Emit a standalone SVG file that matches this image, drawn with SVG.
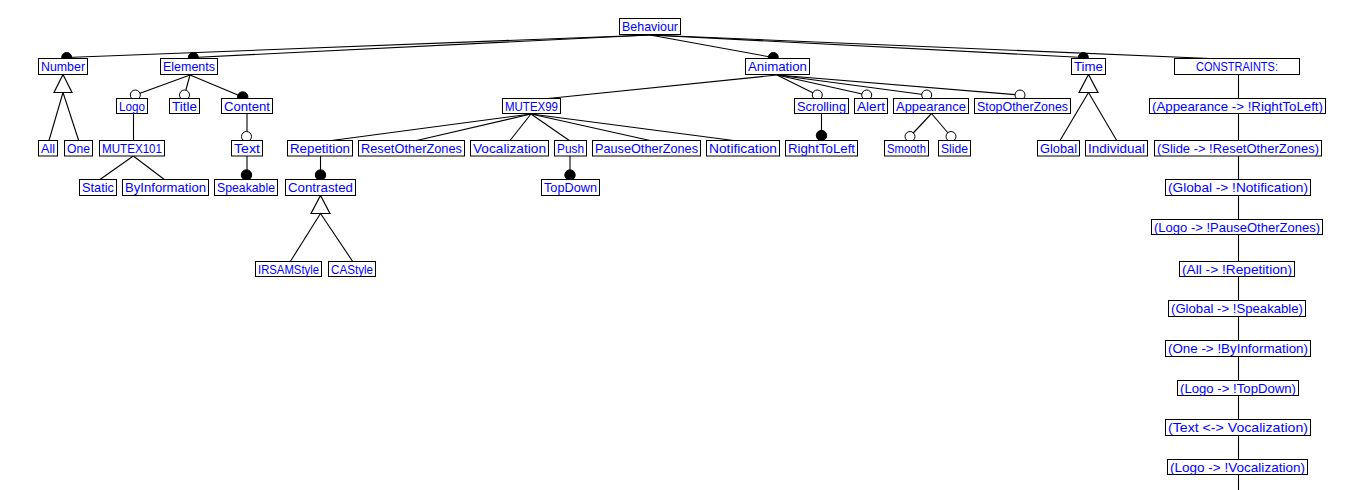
<svg xmlns="http://www.w3.org/2000/svg" width="1352" height="490" viewBox="0 0 1352 490">
<style>
rect{fill:#fff;stroke:#000;stroke-width:1}
text{font-family:"Liberation Sans",Arial,sans-serif;font-size:13.5px;fill:#0000ff;text-anchor:middle}
#connectors line{stroke:#000;stroke-width:1.1}
.open{fill:#fff;stroke:#000;stroke-width:1}
.full{fill:#000;stroke:#000;stroke-width:1}
.tri{fill:#fff;stroke:#000;stroke-width:1.2}
</style>
<rect x="0" y="0" width="1352" height="490" style="fill:#fff;stroke:none"/>
<g id="connectors">
<line x1="650" y1="35" x2="66.7" y2="57.5"/>
<line x1="650" y1="35" x2="193.3" y2="57.5"/>
<line x1="650" y1="35" x2="773.3" y2="57.5"/>
<line x1="650" y1="35" x2="1083.3" y2="57.5"/>
<line x1="650" y1="35" x2="1210" y2="58.5"/>
<line x1="190" y1="75" x2="135.3" y2="95"/>
<line x1="190" y1="75" x2="184.5" y2="95"/>
<line x1="190" y1="75" x2="242.7" y2="97"/>
<line x1="777" y1="75" x2="548" y2="98.5"/>
<line x1="777" y1="75" x2="817.3" y2="95"/>
<line x1="777" y1="75" x2="866.7" y2="95"/>
<line x1="777" y1="75" x2="926.7" y2="95"/>
<line x1="777" y1="75" x2="1020" y2="95"/>
<line x1="531" y1="114" x2="331.7" y2="140.5"/>
<line x1="531" y1="114" x2="416.7" y2="140.5"/>
<line x1="531" y1="114" x2="510" y2="140.5"/>
<line x1="531" y1="114" x2="569.3" y2="140.5"/>
<line x1="531" y1="114" x2="650" y2="140.5"/>
<line x1="531" y1="114" x2="733.5" y2="140.5"/>
<line x1="133.5" y1="113.5" x2="133.5" y2="140.5"/>
<line x1="133.3" y1="156" x2="100" y2="179.5"/>
<line x1="133.3" y1="156" x2="164.3" y2="179.5"/>
<line x1="247" y1="113.5" x2="247" y2="137"/>
<line x1="247" y1="156" x2="247" y2="175"/>
<line x1="320.5" y1="156" x2="320.5" y2="175"/>
<line x1="320.5" y1="213.5" x2="290.3" y2="261.5"/>
<line x1="320.5" y1="213.5" x2="352.7" y2="261.5"/>
<line x1="570" y1="156" x2="570" y2="175"/>
<line x1="821.5" y1="113.5" x2="821.5" y2="135.5"/>
<line x1="931.5" y1="113.5" x2="910" y2="136.5"/>
<line x1="931.5" y1="113.5" x2="951" y2="136.5"/>
<line x1="63" y1="92.5" x2="49" y2="140.5"/>
<line x1="63" y1="92.5" x2="78.7" y2="140.5"/>
<line x1="1088.5" y1="92.5" x2="1060" y2="140.5"/>
<line x1="1088.5" y1="92.5" x2="1116.7" y2="140.5"/>
<line x1="1238.5" y1="74.5" x2="1238.5" y2="490"/>
<polygon class="tri" points="63,74.5 54,92.5 72,92.5"/>
<polygon class="tri" points="1088.5,74.5 1079,92.5 1098,92.5"/>
<polygon class="tri" points="320.5,195.5 311,213.5 330,213.5"/>
<circle class="full" cx="66.7" cy="57.5" r="5"/>
<circle class="full" cx="193.3" cy="57.5" r="5"/>
<circle class="full" cx="773.3" cy="57.5" r="5"/>
<circle class="full" cx="1083.3" cy="57.5" r="5"/>
<circle class="full" cx="242.7" cy="97" r="5.2"/>
<circle class="full" cx="246.5" cy="175" r="5.2"/>
<circle class="full" cx="320.5" cy="175" r="5.2"/>
<circle class="full" cx="570" cy="175" r="5.2"/>
<circle class="full" cx="821.5" cy="135.5" r="5.2"/>
<circle class="open" cx="135.3" cy="95" r="5"/>
<circle class="open" cx="184.5" cy="95" r="5"/>
<circle class="open" cx="817.3" cy="95" r="5"/>
<circle class="open" cx="866.7" cy="95" r="5"/>
<circle class="open" cx="926.7" cy="95" r="5"/>
<circle class="open" cx="1020" cy="95" r="5"/>
<circle class="open" cx="246.5" cy="136.5" r="5"/>
<circle class="open" cx="910" cy="136.5" r="5"/>
<circle class="open" cx="951" cy="136.5" r="5"/>
</g>
<g id="Behaviour"><rect x="619.5" y="18.5" width="61" height="16"/><text x="650" y="31" textLength="56" lengthAdjust="spacingAndGlyphs">Behaviour</text></g>
<g id="Number"><rect x="38.5" y="58.5" width="49" height="16"/><text x="63" y="71" textLength="44" lengthAdjust="spacingAndGlyphs">Number</text></g>
<g id="Elements"><rect x="160.5" y="58.5" width="57" height="16"/><text x="189" y="71" textLength="52" lengthAdjust="spacingAndGlyphs">Elements</text></g>
<g id="Animation"><rect x="745.5" y="58.5" width="64" height="16"/><text x="777.5" y="71" textLength="59" lengthAdjust="spacingAndGlyphs">Animation</text></g>
<g id="Time"><rect x="1071.5" y="58.5" width="34" height="16"/><text x="1088.5" y="71" textLength="29" lengthAdjust="spacingAndGlyphs">Time</text></g>
<g id="CONSTRAINTS"><rect x="1174.5" y="58.5" width="125" height="16"/><text x="1237" y="71" textLength="82" lengthAdjust="spacingAndGlyphs">CONSTRAINTS:</text></g>
<g id="Logo"><rect x="116.5" y="98.5" width="31" height="15"/><text x="132" y="110.5" textLength="26" lengthAdjust="spacingAndGlyphs">Logo</text></g>
<g id="Title"><rect x="169.5" y="98.5" width="30" height="15"/><text x="184.5" y="110.5" textLength="25" lengthAdjust="spacingAndGlyphs">Title</text></g>
<g id="Content"><rect x="221.5" y="98.5" width="51" height="15"/><text x="247" y="110.5" textLength="46" lengthAdjust="spacingAndGlyphs">Content</text></g>
<g id="MUTEX99"><rect x="502.5" y="98.5" width="58" height="15"/><text x="531.5" y="110.5" textLength="53" lengthAdjust="spacingAndGlyphs">MUTEX99</text></g>
<g id="Scrolling"><rect x="794.5" y="98.5" width="54" height="15"/><text x="821.5" y="110.5" textLength="49" lengthAdjust="spacingAndGlyphs">Scrolling</text></g>
<g id="Alert"><rect x="854.5" y="98.5" width="33" height="15"/><text x="871" y="110.5" textLength="28" lengthAdjust="spacingAndGlyphs">Alert</text></g>
<g id="Appearance"><rect x="893.5" y="98.5" width="75" height="15"/><text x="931" y="110.5" textLength="70" lengthAdjust="spacingAndGlyphs">Appearance</text></g>
<g id="StopOtherZones"><rect x="974.5" y="98.5" width="96" height="15"/><text x="1022.5" y="110.5" textLength="91" lengthAdjust="spacingAndGlyphs">StopOtherZones</text></g>
<g id="c1"><rect x="1149.5" y="98.5" width="176" height="15"/><text x="1237.5" y="110.5" textLength="171" lengthAdjust="spacingAndGlyphs">(Appearance -&gt; !RightToLeft)</text></g>
<g id="All"><rect x="38.5" y="140.5" width="19" height="15.5"/><text x="48" y="153" textLength="14" lengthAdjust="spacingAndGlyphs">All</text></g>
<g id="One"><rect x="64.5" y="140.5" width="28" height="15.5"/><text x="78.5" y="153" textLength="23" lengthAdjust="spacingAndGlyphs">One</text></g>
<g id="MUTEX101"><rect x="99.5" y="140.5" width="65" height="15.5"/><text x="132" y="153" textLength="60" lengthAdjust="spacingAndGlyphs">MUTEX101</text></g>
<g id="Text"><rect x="231.5" y="140.5" width="31" height="15.5"/><text x="247" y="153" textLength="26" lengthAdjust="spacingAndGlyphs">Text</text></g>
<g id="Repetition"><rect x="287.5" y="140.5" width="65" height="15.5"/><text x="320" y="153" textLength="60" lengthAdjust="spacingAndGlyphs">Repetition</text></g>
<g id="ResetOtherZones"><rect x="358.5" y="140.5" width="106" height="15.5"/><text x="411.5" y="153" textLength="101" lengthAdjust="spacingAndGlyphs">ResetOtherZones</text></g>
<g id="Vocalization"><rect x="470.5" y="140.5" width="78" height="15.5"/><text x="509.5" y="153" textLength="73" lengthAdjust="spacingAndGlyphs">Vocalization</text></g>
<g id="Push"><rect x="554.5" y="140.5" width="32" height="15.5"/><text x="570.5" y="153" textLength="27" lengthAdjust="spacingAndGlyphs">Push</text></g>
<g id="PauseOtherZones"><rect x="592.5" y="140.5" width="108" height="15.5"/><text x="646.5" y="153" textLength="103" lengthAdjust="spacingAndGlyphs">PauseOtherZones</text></g>
<g id="Notification"><rect x="706.5" y="140.5" width="73" height="15.5"/><text x="743" y="153" textLength="68" lengthAdjust="spacingAndGlyphs">Notification</text></g>
<g id="RightToLeft"><rect x="785.5" y="140.5" width="72" height="15.5"/><text x="821.5" y="153" textLength="67" lengthAdjust="spacingAndGlyphs">RightToLeft</text></g>
<g id="Smooth"><rect x="884.5" y="140.5" width="44" height="15.5"/><text x="906.5" y="153" textLength="39" lengthAdjust="spacingAndGlyphs">Smooth</text></g>
<g id="Slide"><rect x="938.5" y="140.5" width="32" height="15.5"/><text x="954.5" y="153" textLength="27" lengthAdjust="spacingAndGlyphs">Slide</text></g>
<g id="Global"><rect x="1037.5" y="140.5" width="42" height="15.5"/><text x="1058.5" y="153" textLength="37" lengthAdjust="spacingAndGlyphs">Global</text></g>
<g id="Individual"><rect x="1085.5" y="140.5" width="62" height="15.5"/><text x="1116.5" y="153" textLength="57" lengthAdjust="spacingAndGlyphs">Individual</text></g>
<g id="c2"><rect x="1154.5" y="140.5" width="167" height="15.5"/><text x="1238" y="153" textLength="162" lengthAdjust="spacingAndGlyphs">(Slide -&gt; !ResetOtherZones)</text></g>
<g id="Static"><rect x="79.5" y="179.5" width="37" height="16"/><text x="98" y="192" textLength="32" lengthAdjust="spacingAndGlyphs">Static</text></g>
<g id="ByInformation"><rect x="122.5" y="179.5" width="86" height="16"/><text x="165.5" y="192" textLength="81" lengthAdjust="spacingAndGlyphs">ByInformation</text></g>
<g id="Speakable"><rect x="214.5" y="179.5" width="63" height="16"/><text x="246" y="192" textLength="58" lengthAdjust="spacingAndGlyphs">Speakable</text></g>
<g id="Contrasted"><rect x="285.5" y="179.5" width="70" height="16"/><text x="320.5" y="192" textLength="65" lengthAdjust="spacingAndGlyphs">Contrasted</text></g>
<g id="TopDown"><rect x="541.5" y="179.5" width="58" height="16"/><text x="570.5" y="192" textLength="53" lengthAdjust="spacingAndGlyphs">TopDown</text></g>
<g id="c3"><rect x="1165.5" y="179.5" width="145" height="16"/><text x="1238" y="192" textLength="140" lengthAdjust="spacingAndGlyphs">(Global -&gt; !Notification)</text></g>
<g id="c4"><rect x="1151.5" y="219.5" width="171" height="15"/><text x="1237" y="231.5" textLength="166" lengthAdjust="spacingAndGlyphs">(Logo -&gt; !PauseOtherZones)</text></g>
<g id="IRSAMStyle"><rect x="255.5" y="261.5" width="66" height="15"/><text x="288.5" y="273.5" textLength="61" lengthAdjust="spacingAndGlyphs">IRSAMStyle</text></g>
<g id="CAStyle"><rect x="328.5" y="261.5" width="47" height="15"/><text x="352" y="273.5" textLength="42" lengthAdjust="spacingAndGlyphs">CAStyle</text></g>
<g id="c5"><rect x="1179.5" y="261.5" width="115" height="15"/><text x="1237" y="273.5" textLength="110" lengthAdjust="spacingAndGlyphs">(All -&gt; !Repetition)</text></g>
<g id="c6"><rect x="1168.5" y="300.5" width="137" height="16"/><text x="1237" y="313" textLength="132" lengthAdjust="spacingAndGlyphs">(Global -&gt; !Speakable)</text></g>
<g id="c7"><rect x="1165.5" y="340.5" width="145" height="16"/><text x="1238" y="353" textLength="140" lengthAdjust="spacingAndGlyphs">(One -&gt; !ByInformation)</text></g>
<g id="c8"><rect x="1177.5" y="380.5" width="121" height="15"/><text x="1238" y="392.5" textLength="116" lengthAdjust="spacingAndGlyphs">(Logo -&gt; !TopDown)</text></g>
<g id="c9"><rect x="1165.5" y="419.5" width="145" height="16"/><text x="1238" y="432" textLength="140" lengthAdjust="spacingAndGlyphs">(Text &lt;-&gt; Vocalization)</text></g>
<g id="c10"><rect x="1167.5" y="459.5" width="140" height="15"/><text x="1237.5" y="471.5" textLength="135" lengthAdjust="spacingAndGlyphs">(Logo -&gt; !Vocalization)</text></g>
</svg>
